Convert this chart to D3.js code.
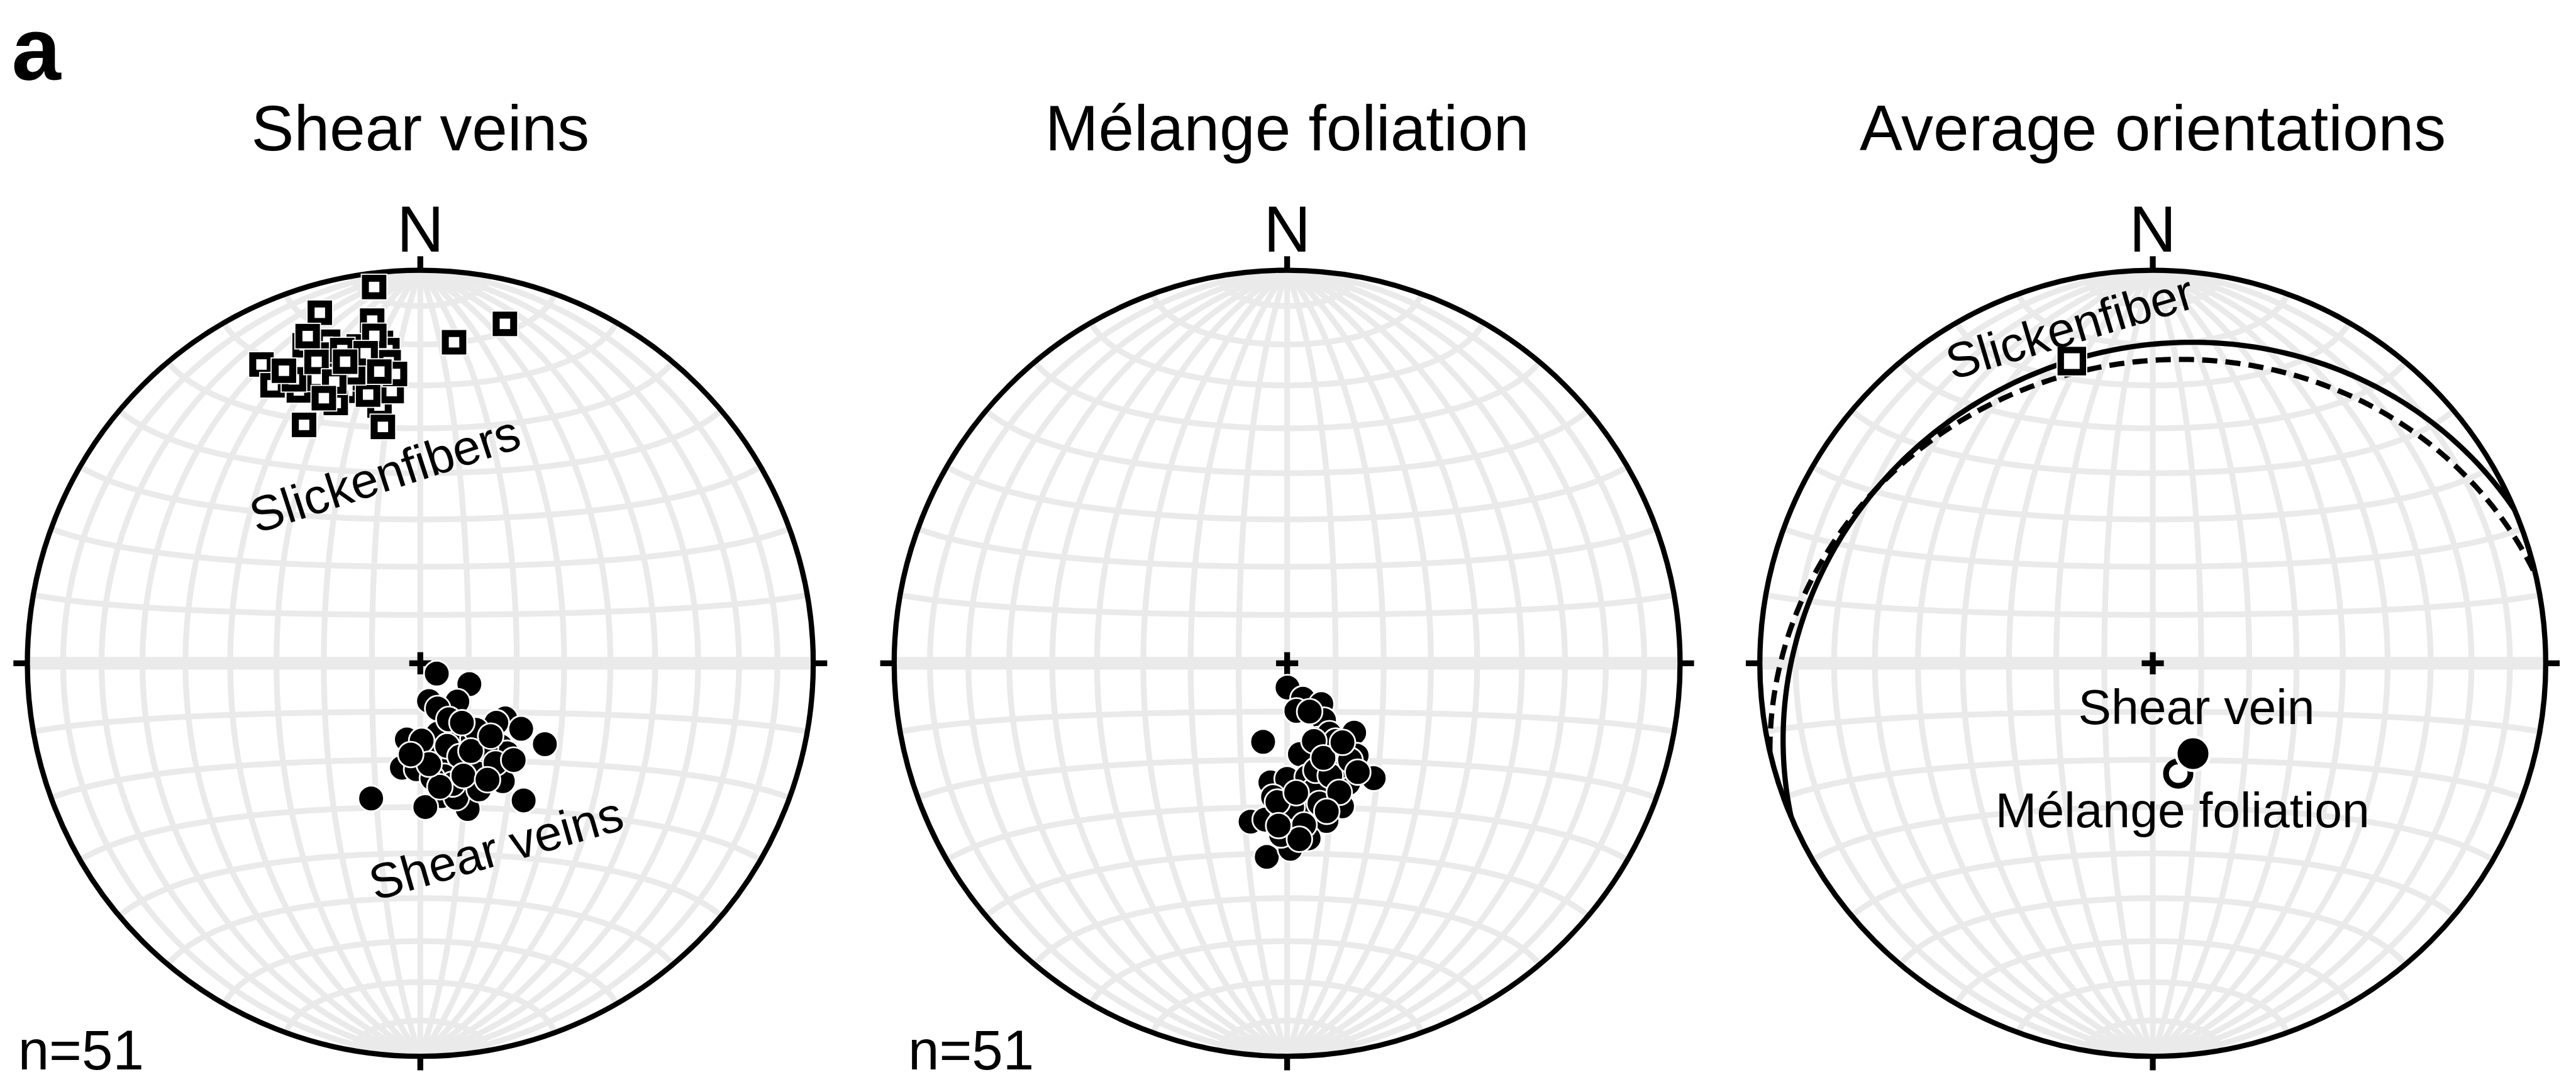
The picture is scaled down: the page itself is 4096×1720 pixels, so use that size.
<!DOCTYPE html>
<html>
<head>
<meta charset="utf-8">
<script src="https://cdn.jsdelivr.net/npm/d3@7"></script>
<style>
  html, body { margin: 0; padding: 0; background: #fff; }
  svg { display: block; }
  text { font-family: "Liberation Sans", Arial, Helvetica, sans-serif; fill: #000; }
</style>
</head>
<body>
<svg id="chart"></svg>
<script>
// orientations in degrees, lower hemisphere: [trend, plunge]
var veinPoles = [
  [122,86],[113,79],[167,82],[136,79],[159,80],[123,69],[128,70],[123,65],[190,74],[166,75],
  [151,74],[145,71],[123,59],[177,72],[136,66],[136,64],[171,70],[162,68],[156,66],[190,68],
  [182,68],[146,67],[152,64],[145,60],[200,60],[171,62],[178,60],[160,61],[162,58],[143,54],
  [162,72],[142,68],[157,69],[168,66],[174,66],[165,61],[143,64],[140,72],[153,77],[179,74],
  [150,69],[165,64],[155,61],[171,64],[175,69],[136,69],[136,62],[159,65],[186,71],[150,62],
  [145,75]
]
var slickLines = [
  [353,4],[344,8],[352,13],[6,19],[14,12],[349,19],[344,16],[340,15],[353,19],[354,21],
  [332,15],[344,22],[332,21],[338,25],[345,29],[351,34],[354,31],[334,33],[351,39],[342,31],
  [349,27],[336,25],[349,23],[340,24],[336,22],[354,24],[349,31],[343,19],[341,20],[346,19],
  [352,17],[347,25],[343,26],[335,19],[340,29],[355,27],[350,21],[341,13],[346,22],[352,26]
]
var foliationPoles = [
  [179,85],[156,82],[169,80],[140,79],[147,76],[197,73],[158,73],[136,70],[172,71],[148,68],
  [143,66],[160,68],[188,65],[180,66],[153,62],[143,60],[186,62],[170,66],[175,61],[159,58],
  [193,56],[188,57],[182,57],[172,58],[166,56],[173,53],[181,52],[186,49],[179,51],[168,63],
  [154,66],[149,73],[148,71],[165,67],[178,60],[167,60],[182,54],[174,56],[159,65],[147,66],
  [161,73],[184,61],[176,53],[159,69],[158,61],[176,63],[165,58],[147,63],[155,79],[183,56],
  [145,70]
]
// average planes: [dip direction, dip]
var avgPlaneNames = ["Shear vein", "Mélange foliation"]
var avgPlanes = [[337,21.5],[347,24.5]]
// average poles: [trend, plunge]
var avgPoles = [[167,66.5],[156,69.5]]
var avgPoleFilled = [false, true]
var avgLine = [345,21.5]

var titles = ["Shear veins", "Mélange foliation", "Average orientations"]
var counts = ["n=51", "n=51", null]

var W = 4425, H = 1858
var R = 675, cy = 1139
var centers = [722, 2211, 3698]
var rad = Math.PI / 180

var svg = d3.select("#chart")
  .attr("width", 4096).attr("height", 1720)
  .attr("viewBox", "0 0 " + W + " " + H)

function toLonLat(tp) {
  var t = tp[0] * rad, p = tp[1] * rad
  var n = Math.cos(p) * Math.cos(t), e = Math.cos(p) * Math.sin(t), d = Math.sin(p)
  return [Math.atan2(e, d) / rad, Math.asin(n) / rad]
}

function planeLine(pl) {
  var dd = pl[0] * rad, dp = pl[1] * rad, s = dd - Math.PI / 2
  var coords = d3.range(0, 180.5, 1).map(function(a) {
    a = a * rad
    var n = Math.cos(s) * Math.cos(a) + Math.cos(dp) * Math.cos(dd) * Math.sin(a)
    var e = Math.sin(s) * Math.cos(a) + Math.cos(dp) * Math.sin(dd) * Math.sin(a)
    var d = Math.max(0, Math.sin(dp) * Math.sin(a))
    return [Math.atan2(e, d) / rad, Math.asin(Math.max(-1, Math.min(1, n))) / rad]
  })
  return {type: "LineString", coordinates: coords}
}

function net(cx) {
  var proj = d3.geoAzimuthalEqualArea()
    .rotate([0, 0])
    .scale(R / Math.SQRT2)
    .translate([cx, cy])
    .precision(0.1)
  var path = d3.geoPath(proj)
  var g = svg.append("g")

  var grid = g.append("g").attr("fill", "none").attr("stroke", "#eaeaea").attr("stroke-width", 10)
  d3.range(-80, 81, 10).forEach(function(lon) {
    grid.append("path").attr("d", path({type: "LineString",
      coordinates: d3.range(-90, 90.5, 2).map(function(lat) { return [lon, lat] })}))
  })
  d3.range(-80, 81, 10).filter(function(l) { return l != 0 }).forEach(function(lat) {
    grid.append("path").attr("d", path({type: "LineString",
      coordinates: d3.range(-90, 90.5, 1).map(function(lon) { return [lon, lat] })}))
  })
  grid.append("path").attr("stroke-width", 22).attr("d", path({type: "LineString",
    coordinates: [[-90, 0], [0, 0], [90, 0]]}))

  g.append("circle").attr("cx", cx).attr("cy", cy).attr("r", R)
    .attr("fill", "none").attr("stroke", "#000").attr("stroke-width", 9)

  var ticks = [[0, -1], [0, 1], [-1, 0], [1, 0]]
  g.selectAll(".tick").data(ticks).enter().append("line")
    .attr("x1", function(t) { return cx + t[0] * R })
    .attr("y1", function(t) { return cy + t[1] * R })
    .attr("x2", function(t) { return cx + t[0] * (R + 24) })
    .attr("y2", function(t) { return cy + t[1] * (R + 24) })
    .attr("stroke", "#000").attr("stroke-width", 10)

  g.append("path").attr("d", "M" + (cx - 19) + "," + cy + "h38M" + cx + "," + (cy - 19) + "v38")
    .attr("stroke", "#000").attr("stroke-width", 10)

  g.append("text").attr("x", cx).attr("y", 432).attr("text-anchor", "middle")
    .attr("font-size", 112).text("N")

  return {g: g, proj: proj, path: path}
}

function squares(g, proj, data, side, sw) {
  var s = g.append("g")
  data.forEach(function(d) {
    var p = proj(toLonLat(d))
    s.append("rect").attr("x", p[0] - side / 2 - sw / 2 - 2).attr("y", p[1] - side / 2 - sw / 2 - 2)
      .attr("width", side + sw + 4).attr("height", side + sw + 4).attr("fill", "#fff")
    s.append("rect").attr("x", p[0] - side / 2).attr("y", p[1] - side / 2)
      .attr("width", side).attr("height", side)
      .attr("fill", "#fff").attr("stroke", "#000").attr("stroke-width", sw)
  })
}

function dots(g, proj, data, r) {
  g.append("g").selectAll("circle").data(data).enter().append("circle")
    .attr("cx", function(d) { return proj(toLonLat(d))[0] })
    .attr("cy", function(d) { return proj(toLonLat(d))[1] })
    .attr("r", r)
    .attr("fill", "#000").attr("stroke", "#fff").attr("stroke-width", 3)
}

function label(g, x, y, rot, size, txt) {
  g.append("text").attr("text-anchor", "middle").attr("font-size", size)
    .attr("transform", "translate(" + x + "," + y + ") rotate(" + rot + ")")
    .text(txt)
}

// panel label
svg.append("text").attr("x", 20).attr("y", 137).attr("font-size", 152)
  .attr("font-weight", "bold").text("a")

var nets = centers.map(function(cx, i) {
  svg.append("text").attr("x", cx).attr("y", 258).attr("text-anchor", "middle")
    .attr("font-size", 110).text(titles[i])
  return net(cx)
})
counts.forEach(function(c, i) {
  if (!c) return
  svg.append("text").attr("x", i == 0 ? 31 : 1560).attr("y", 1837).attr("font-size", 96).text(c)
})

// shear veins
var n0 = nets[0]
squares(n0.g, n0.proj, slickLines, 30, 12)
dots(n0.g, n0.proj, veinPoles, 22)
label(n0.g, 670, 842, -18, 85, "Slickenfibers")
label(n0.g, 860, 1485, -16, 85, "Shear veins")

// melange foliation
var n1 = nets[1]
dots(n1.g, n1.proj, foliationPoles, 22)

// average orientations
var n2 = nets[2]
avgPlanes.forEach(function(pl, i) {
  n2.g.append("path").attr("d", n2.path(planeLine(pl)))
    .attr("fill", "none").attr("stroke", "#000").attr("stroke-width", 9)
    .attr("stroke-dasharray", i == 1 ? "26,14" : null)
})
squares(n2.g, n2.proj, [avgLine], 38, 11)
avgPoles.forEach(function(p, i) {
  var xy = n2.proj(toLonLat(p))
  n2.g.append("circle").attr("cx", xy[0]).attr("cy", xy[1])
    .attr("r", avgPoleFilled[i] ? 29 : 21)
    .attr("fill", avgPoleFilled[i] ? "#000" : "#fff")
    .attr("stroke", avgPoleFilled[i] ? "#fff" : "#000")
    .attr("stroke-width", avgPoleFilled[i] ? 5 : 10)
})
label(n2.g, 3564, 590, -16.6, 85, "Slickenfiber")
label(n2.g, 3773, 1243, 0, 85, avgPlaneNames[0])
label(n2.g, 3749, 1421, 0, 85, avgPlaneNames[1])
</script>
</body>
</html>
